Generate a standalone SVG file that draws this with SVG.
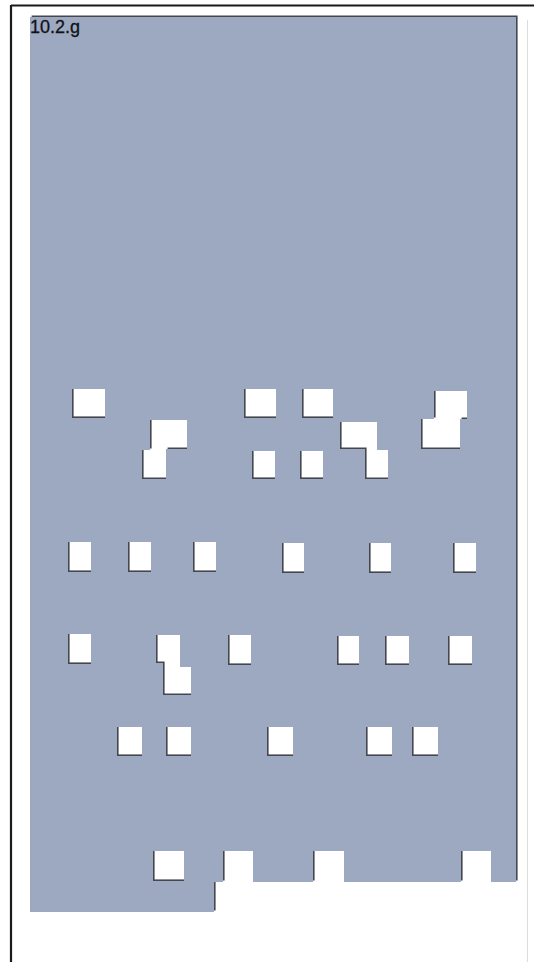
<svg xmlns="http://www.w3.org/2000/svg" xmlns:xlink="http://www.w3.org/1999/xlink" width="534" height="962" viewBox="0 0 534 962">
<style>
.frame{stroke:#1a1a1a;stroke-width:2.2;fill:none}
.faint{stroke:#dcdcdc;stroke-width:1;fill:none}
.lbl{font-family:"Liberation Sans",Arial,sans-serif;font-size:18px;fill:#101216;stroke:#101216;stroke-width:0.3}
</style>
<defs>
<mask id="holes" maskUnits="userSpaceOnUse" x="0" y="0" width="534" height="962">
<rect x="0" y="0" width="534" height="962" fill="#fff"/>
<g fill="#000">
<rect id="h-r1a" x="72" y="389" width="33" height="29"/>
<polygon id="h-r1b" points="150,420 187,420 187,449 166,449 166,479 142,479 142,450 150,450"/>
<rect id="h-r1c" x="244" y="389" width="32" height="29"/>
<rect id="h-r1d" x="302" y="389" width="31" height="29"/>
<polygon id="h-r1e" points="340,422 377,422 377,450 388,450 388,479 365,479 365,449 340,449"/>
<polygon id="h-r1f" points="434,391 467,391 467,419 460,419 460,449 421,449 421,419 434,419"/>
<rect id="h-r2a" x="252" y="451" width="23" height="28"/>
<rect id="h-r2b" x="300" y="451" width="23" height="28"/>
<rect id="h-r3a" x="68" y="542" width="23" height="30"/>
<rect id="h-r3b" x="128" y="542" width="23" height="30"/>
<rect id="h-r3c" x="193" y="542" width="23" height="30"/>
<rect id="h-r3d" x="282" y="543" width="22" height="30"/>
<rect id="h-r3e" x="369" y="543" width="22" height="30"/>
<rect id="h-r3f" x="453" y="543" width="23" height="30"/>
<rect id="h-r4a" x="68" y="634" width="23" height="30"/>
<polygon id="h-r4b" points="156,635 180,635 180,667 191,667 191,695 163,695 163,663 156,663"/>
<rect id="h-r4c" x="228" y="635" width="23" height="30"/>
<rect id="h-r4d" x="337" y="636" width="22" height="29"/>
<rect id="h-r4e" x="385" y="636" width="24" height="29"/>
<rect id="h-r4f" x="448" y="636" width="24" height="29"/>
<rect id="h-r5a" x="117" y="727" width="25" height="29"/>
<rect id="h-r5b" x="166" y="727" width="25" height="29"/>
<rect id="h-r5c" x="267" y="727" width="26" height="29"/>
<rect id="h-r5d" x="366" y="727" width="26" height="29"/>
<rect id="h-r5e" x="412" y="727" width="26" height="29"/>
<rect id="h-r6a" x="153" y="851" width="31" height="30"/>
</g>
</mask>
<g id="sheet" mask="url(#holes)">
<path d="M30,17 H516 V882 H491 V851 H461 V882 H344 V851 H313 V882 H253 V851 H223 V882 H214 V912 H30 Z"/>
</g>
</defs>
<rect x="0" y="0" width="534" height="962" fill="#fff"/>
<g id="frame">
<line class="frame" x1="11" y1="5.5" x2="534" y2="5.5"/>
<line class="frame" x1="11" y1="5" x2="11" y2="962"/>
<line class="faint" x1="527.5" y1="20" x2="527.5" y2="962"/>
</g>
<g id="plate">
<use xlink:href="#sheet" href="#sheet" fill="#44474f" transform="translate(1.6,-1.6)"/>
<use xlink:href="#sheet" href="#sheet" fill="#9da9c1"/>
</g>
<text class="lbl" x="30" y="33">10.2.g</text>
</svg>
